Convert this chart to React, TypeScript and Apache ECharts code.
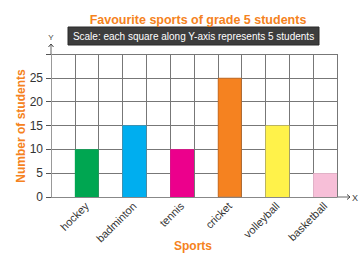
import React, { useEffect, useRef } from "react";
import * as echarts from "echarts";

const categories = ["hockey", "badminton", "tennis", "cricket", "volleyball", "basketball"];
const values = [10, 15, 10, 25, 15, 5];
const colors = ["#00A651", "#00AEEF", "#EC008C", "#F58220", "#FFF24A", "#F7BFD8"];
const yTicks = [0, 5, 10, 15, 20, 25];

export default function App() {
  const ref = useRef<HTMLDivElement>(null);
  useEffect(() => {
    if (!ref.current) return;
    const chart = echarts.init(ref.current, null, { renderer: "svg" });
    // 12 slots: each sport occupies the right half of a 2-square band
    const slots: string[] = [];
    const data: any[] = [];
    categories.forEach((c, i) => {
      slots.push("");
      data.push(null);
      slots.push(c);
      data.push({
        value: values[i],
        itemStyle: { color: colors[i], borderColor: i === 3 ? "#B8601A" : colors[i], borderWidth: i === 3 ? 0.6 : 0 },
      });
    });
    const orange = "#F58220";
    const font = "Liberation Sans, Arial";
    chart.setOption({
      animation: false,
      title: {
        text: "Favourite sports of grade 5 students",
        left: 193,
        textAlign: "center",
        top: 8,
        textStyle: { color: orange, fontSize: 12.5, fontWeight: 900, fontFamily: font },
      },
      grid: { left: 51, right: 27, top: 54, bottom: 57, containLabel: false, outerBoundsMode: "none" },
      xAxis: {
        type: "category",
        data: slots,
        boundaryGap: true,
        axisLine: { lineStyle: { color: "#888", width: 1 } },
        axisTick: { show: false },
        axisLabel: {
          interval: 0,
          rotate: 45,
          margin: 7,
          color: "#333",
          fontSize: 11,
          fontFamily: font,
        },
        splitLine: { show: true, interval: 0, lineStyle: { color: "#777", width: 1 } },
      },
      yAxis: {
        type: "value",
        min: 0,
        max: 30,
        interval: 5,
        axisLine: { show: true, lineStyle: { color: "#999", width: 1 } },
        axisTick: { show: true, length: 5, lineStyle: { color: "#555" } },
        axisLabel: {
          margin: 8,
          color: "#333",
          fontSize: 12,
          fontFamily: font,
          formatter: (v: number) => (yTicks.includes(v) ? String(v) : ""),
        },
        splitLine: { show: true, lineStyle: { color: "#777", width: 1 } },
      },
      series: [
        {
          type: "bar",
          data,
          barWidth: "100%",
          barCategoryGap: "0%",
        },
      ],
      graphic: [
        {
          type: "rect",
          shape: { x: 68, y: 27, width: 251, height: 18 },
          style: { fill: "#3D3D3D", stroke: "#2a2a2a" },
        },
        {
          type: "text",
          x: 193.5,
          y: 36,
          style: {
            text: "Scale: each square along Y-axis represents 5 students",
            fill: "#fff",
            fontSize: 10,
            fontFamily: font,
            align: "center",
            verticalAlign: "middle",
          },
        },
        {
          type: "text",
          x: 193,
          y: 246,
          style: { text: "Sports", fill: orange, fontSize: 12, fontWeight: "bold", fontFamily: font, align: "center", verticalAlign: "middle" },
        },
        {
          type: "text",
          x: 21,
          y: 126,
          rotation: Math.PI / 2,
          style: { text: "Number of students", fill: orange, fontSize: 12, fontWeight: "bold", fontFamily: font, align: "center", verticalAlign: "middle" },
        },
        { type: "line", shape: { x1: 51, y1: 54, x2: 51, y2: 44 }, style: { stroke: "#666", lineWidth: 1 } },
        { type: "polyline", shape: { points: [[48.5, 47], [51, 44], [53.5, 47]] }, style: { stroke: "#444", fill: "none", lineWidth: 1 } },
        { type: "text", x: 51, y: 37, style: { text: "Y", fill: "#444", fontSize: 8, fontFamily: font, align: "center", verticalAlign: "middle" } },
        { type: "line", shape: { x1: 337, y1: 197, x2: 350, y2: 197 }, style: { stroke: "#666", lineWidth: 1 } },
        { type: "polyline", shape: { points: [[347, 194.5], [350, 197], [347, 199.5]] }, style: { stroke: "#444", fill: "none", lineWidth: 1 } },
        { type: "text", x: 355, y: 197.5, style: { text: "X", fill: "#444", fontSize: 9, fontFamily: font, align: "center", verticalAlign: "middle" } },
      ],
    });
    return () => chart.dispose();
  }, []);
  return <div ref={ref} style={{ width: 364, height: 254, position: "absolute", left: 0, top: 0 }} />;
}
